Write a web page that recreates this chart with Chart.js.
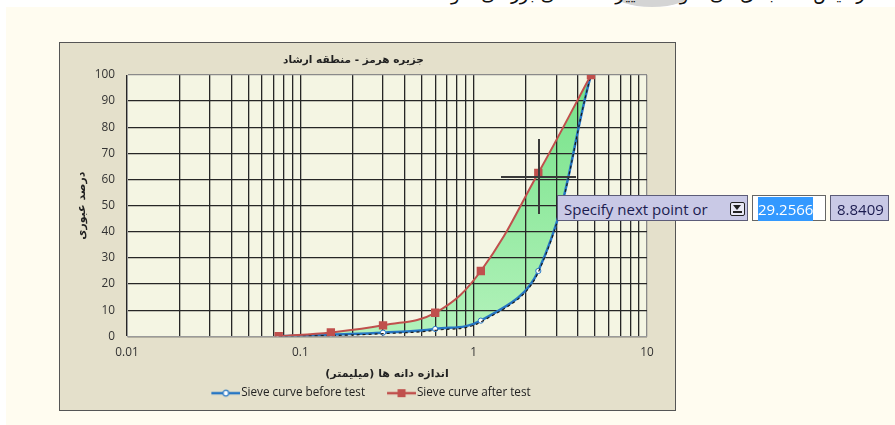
<!DOCTYPE html>
<html>
<head>
<meta charset="utf-8">
<script src="https://cdn.jsdelivr.net/npm/chart.js@4.4.0/dist/chart.umd.min.js"></script>
<style>
  body { margin: 0; width: 895px; height: 425px; background: #fff; position: relative; overflow: hidden; font-family: "Open Sans", sans-serif; }
  #page { position: absolute; left: 6px; top: 7px; right: 0; bottom: 0; background: #fffcf0; }
  #topText { position: absolute; left: 0; top: 0; width: 895px; height: 7px; overflow: hidden; background: #fff; }
  #topText span { position: absolute; right: 25px; top: -17px; font: 18px "DejaVu Sans"; direction: rtl; white-space: nowrap; color: #111; }
  #blob { position: absolute; left: 612px; top: -22px; width: 80px; height: 29px; border-radius: 50%; background: #d4d4d4; }
  #frame { position: absolute; left: 59px; top: 42px; width: 615px; height: 367px; border: 1px solid #555; border-top-width: 1.5px; background: #e4e0cb; }
  #plotBg { position: absolute; background: #f4f5e3; }
  #chart { position: absolute; left: 0; top: 0; }
  .hair { position: absolute; background: #3a3a3a; }
  .box { position: absolute; height: 26px; line-height: 26px; font-size: 15px; box-sizing: border-box; border: 1px solid #5c5c78; color: #1c1c50; white-space: nowrap; }
  #prompt { left: 557px; top: 195px; width: 191px; background: #c9c9e6; padding-left: 6px; }
  #icon { position: absolute; left: 172px; top: 6px; width: 13px; height: 12px; border: 1px solid #222; border-radius: 2px; background: #e8e8f4; }
  #icon i { position: absolute; left: 2px; top: 2px; width: 0; height: 0; border-left: 4.5px solid transparent; border-right: 4.5px solid transparent; border-top: 5px solid #222; }
  #icon b { position: absolute; left: 2px; top: 8px; width: 9px; height: 1.5px; background: #222; }
  #inp1 { left: 752px; top: 195px; width: 74px; background: #fff; padding-left: 5px; border-color: #666; }
  #inp1 span { background: #3399ff; color: #fff; padding: 2px 0; }
  #inp2 { left: 830px; top: 195px; width: 59px; background: #c9c9e6; padding-left: 6px; }
</style>
</head>
<body>
<div id="page"></div>
<div id="topText"><div id="blob"></div><span>آزمایش دانه بندی می شود تا تغییرات منحنی بررسی شود</span></div>
<div id="frame">
  <div id="plotBg"></div>
  <canvas id="chart" width="615" height="367"></canvas>
</div>
<div class="hair" style="left:501px; top:176px; width:75px; height:1.5px;"></div>
<div class="hair" style="left:538px; top:139px; width:1.5px; height:75px;"></div>
<div class="box" id="prompt">Specify next point or<div id="icon"><i></i><b></b></div></div>
<div class="box" id="inp1"><span>29.2566</span></div>
<div class="box" id="inp2">8.8409</div>

<script>
// Chart data
const sieveSizes = [0.075, 0.15, 0.3, 0.6, 1.1, 2.36, 4.75];
const beforeTest = [0, 0.7, 1.4, 2.8, 6, 25, 100];
const afterTest = [0, 1.5, 4.2, 9, 25, 62.5, 100];
const tracedLine = [0, 0.3, 1.0, 2.3, 5.5, 24.5, 100];
const xTickLabels = [0.01, 0.1, 1, 10];
const yTickLabels = [0, 10, 20, 30, 40, 50, 60, 70, 80, 90, 100];

const chartTitle = 'جزیره هرمز - منطقه ارشاد';
const xTitle = 'اندازه دانه ها (میلیمتر)';
const yTitle = 'درصد عبوری';
const seriesNames = ['Sieve curve before test', 'Sieve curve after test'];

function toPoints(values) {
    return sieveSizes.map((s, i) => ({ x: s, y: values[i] }));
}

// Legend icon: line with marker in the middle (drawn in the right 29px of the image)
function legendIcon(color, marker) {
    const c = document.createElement('canvas');
    c.width = 49; c.height = 10;
    const g = c.getContext('2d');
    g.strokeStyle = color; g.lineWidth = 2.5;
    g.beginPath(); g.moveTo(20, 5); g.lineTo(49, 5); g.stroke();
    if (marker === 'circle') {
        g.fillStyle = '#fff'; g.lineWidth = 1.2;
        g.beginPath(); g.arc(34.5, 5, 2.8, 0, Math.PI * 2); g.fill(); g.stroke();
    } else {
        g.fillStyle = color;
        g.fillRect(30.5, 1, 8, 8);
    }
    return c;
}

const blueColor = '#2676c4';
const redColor = '#c0504d';
const gridDark = '#262626';

const layoutPlugin = {
    id: 'layoutTweaks',
    afterLayout(chart) {
        const a = chart.chartArea;
        const el = document.getElementById('plotBg');
        el.style.left = a.left + 'px';
        el.style.top = a.top + 'px';
        el.style.width = (a.right - a.left) + 'px';
        el.style.height = (a.bottom - a.top) + 'px';
        // legend sits centred on the whole frame, not only the plot side
        chart.legend.left += 10;
        chart.legend.right += 10;
    }
};

// dataset 0 = after test (on top, carries the green fill down to dataset 1)
// dataset 1 = before test, dataset 2 = dashed trace under the blue curve
const ctx = document.getElementById('chart').getContext('2d');
const chart = new Chart(ctx, {
    type: 'line',
    data: {
        datasets: [{
            label: seriesNames[1],
            data: toPoints(afterTest),
            order: 0,
            borderColor: redColor,
            borderWidth: 2,
            pointStyle: 'rect',
            pointRadius: 4.5,
            pointBackgroundColor: redColor,
            pointBorderColor: redColor,
            tension: 0.4,
            fill: '+1',
            backgroundColor: function(context) {
                const a = context.chart.chartArea;
                if (!a) return '#93ee9f';
                const gr = context.chart.ctx.createLinearGradient(0, a.top, 0, a.bottom);
                gr.addColorStop(0, '#74e287');
                gr.addColorStop(1, '#b3f2bb');
                return gr;
            }
        }, {
            label: seriesNames[0],
            data: toPoints(beforeTest),
            order: 2,
            borderColor: blueColor,
            borderWidth: 2.5,
            pointStyle: 'circle',
            pointRadius: 2.6,
            pointBorderWidth: 1,
            pointBackgroundColor: '#fff',
            pointBorderColor: blueColor,
            backgroundColor: blueColor,
            tension: 0.4,
            fill: false
        }, {
            label: 'trace',
            data: toPoints(tracedLine),
            order: 1,
            borderColor: '#1a1a1a',
            borderWidth: 1.2,
            borderDash: [3, 3],
            pointRadius: 0,
            tension: 0.4,
            fill: false
        }]
    },
    options: {
        responsive: false,
        animation: false,
        layout: { padding: { top: 0, left: 0, right: 28, bottom: 1 } },
        scales: {
            x: {
                type: 'logarithmic',
                min: 0.01,
                max: 10,
                afterBuildTicks: function(scale) {
                    const ticks = [];
                    for (let d = 0; d < xTickLabels.length - 1; d++) {
                        for (let m = 1; m <= 9; m++) {
                            ticks.push({ value: +(m * xTickLabels[d]).toPrecision(6) });
                        }
                    }
                    ticks.push({ value: xTickLabels[xTickLabels.length - 1] });
                    scale.ticks = ticks;
                },
                afterFit: function(scale) { scale.height = 44; },
                ticks: {
                    autoSkip: false,
                    maxRotation: 0,
                    padding: 9,
                    color: '#333',
                    font: { family: 'Open Sans', size: 11.8 },
                    callback: function(value) {
                        return xTickLabels.indexOf(value) >= 0 ? String(value) : '';
                    }
                },
                grid: {
                    drawTicks: false,
                    lineWidth: 1.3,
                    color: ctx => (ctx.tick && ctx.tick.value === 10) ? '#8a8a8a' : gridDark
                },
                border: { color: '#9a9a9a', width: 1 },
                title: {
                    display: true,
                    text: xTitle,
                    color: '#222',
                    font: { family: 'DejaVu Sans', size: 11, weight: 'bold' },
                    padding: { top: 0, bottom: 0 }
                }
            },
            y: {
                min: 0,
                max: 100,
                afterBuildTicks: function(scale) {
                    scale.ticks = yTickLabels.map(v => ({ value: v }));
                },
                afterFit: function(scale) { scale.width = 67; },
                ticks: {
                    padding: 12,
                    color: '#333',
                    font: { family: 'Open Sans', size: 11.8 }
                },
                grid: {
                    drawTicks: false,
                    lineWidth: 1.3,
                    color: ctx => (ctx.tick && ctx.tick.value === 100) ? '#8a8a8a' : gridDark
                },
                border: { color: '#9a9a9a', width: 1 },
                title: {
                    display: true,
                    text: yTitle,
                    color: '#222',
                    font: { family: 'DejaVu Sans', size: 11, weight: 'bold' },
                    padding: { top: 16, bottom: 0 }
                }
            }
        },
        plugins: {
            filler: { drawTime: 'beforeDraw' },
            tooltip: { enabled: false },
            title: {
                display: true,
                text: chartTitle,
                color: '#222',
                font: { family: 'DejaVu Sans', size: 10.5, weight: 'bold' },
                padding: { top: 11, bottom: 8.4 }
            },
            legend: {
                position: 'bottom',
                labels: {
                    usePointStyle: true,
                    pointStyleWidth: 39,
                    padding: 7,
                    color: '#222',
                    font: { family: 'Open Sans', size: 11.7 },
                    filter: item => item.datasetIndex < 2,
                    sort: (a, b) => b.datasetIndex - a.datasetIndex,
                    generateLabels: function(chart) {
                        const items = Chart.defaults.plugins.legend.labels.generateLabels(chart);
                        items.forEach(it => {
                            if (it.datasetIndex === 1) it.pointStyle = legendIcon(blueColor, 'circle');
                            if (it.datasetIndex === 0) it.pointStyle = legendIcon(redColor, 'rect');
                        });
                        return items;
                    }
                }
            }
        }
    },
    plugins: [layoutPlugin]
});
</script>
</body>
</html>
